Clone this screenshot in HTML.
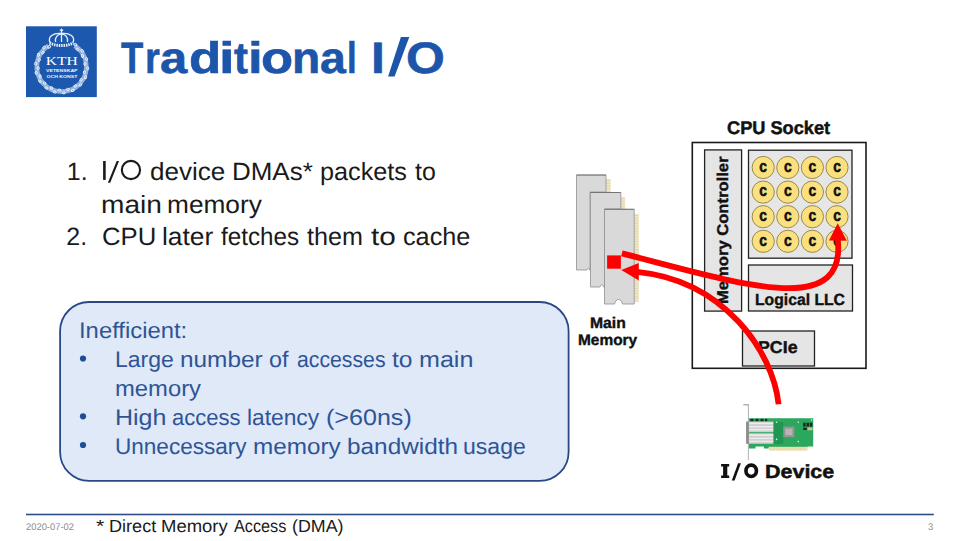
<!DOCTYPE html>
<html><head><meta charset="utf-8">
<style>
html,body{margin:0;padding:0;background:#fff;}
body{width:960px;height:541px;position:relative;overflow:hidden;font-family:"Liberation Sans",sans-serif;}
.t{position:absolute;white-space:nowrap;line-height:1;transform-origin:0 0;text-rendering:geometricPrecision;}
svg{position:absolute;left:0;top:0;}
</style></head><body>
<svg width="960" height="541" viewBox="0 0 960 541">
<!-- KTH logo -->
<rect x="26" y="26.3" width="70.8" height="70.8" fill="#1c58ad"/>
<path d="M74.74,45.77 A24.8,24.8 0 1 1 48.46,45.77" fill="none" stroke="#93b1de" stroke-width="4.6"/>
<g fill="none" stroke="#f2f6fc" stroke-width="0.9"><ellipse cx="75.43" cy="44.67" rx="1.5" ry="1.1" transform="rotate(392 75.43 44.67)"/><ellipse cx="77.39" cy="49.39" rx="1.5" ry="1.1" transform="rotate(402 77.39 49.39)"/><ellipse cx="82.28" cy="50.88" rx="1.5" ry="1.1" transform="rotate(412 82.28 50.88)"/><ellipse cx="82.47" cy="55.99" rx="1.5" ry="1.1" transform="rotate(423 82.47 55.99)"/><ellipse cx="86.54" cy="59.09" rx="1.5" ry="1.1" transform="rotate(433 86.54 59.09)"/><ellipse cx="84.93" cy="63.95" rx="1.5" ry="1.1" transform="rotate(443 84.93 63.95)"/><ellipse cx="87.66" cy="68.28" rx="1.5" ry="1.1" transform="rotate(453 87.66 68.28)"/><ellipse cx="84.46" cy="72.27" rx="1.5" ry="1.1" transform="rotate(463 84.46 72.27)"/><ellipse cx="85.51" cy="77.27" rx="1.5" ry="1.1" transform="rotate(474 85.51 77.27)"/><ellipse cx="81.11" cy="79.89" rx="1.5" ry="1.1" transform="rotate(484 81.11 79.89)"/><ellipse cx="80.35" cy="84.95" rx="1.5" ry="1.1" transform="rotate(494 80.35 84.95)"/><ellipse cx="75.32" cy="85.88" rx="1.5" ry="1.1" transform="rotate(504 75.32 85.88)"/><ellipse cx="72.84" cy="90.35" rx="1.5" ry="1.1" transform="rotate(514 72.84 90.35)"/><ellipse cx="67.81" cy="89.47" rx="1.5" ry="1.1" transform="rotate(525 67.81 89.47)"/><ellipse cx="63.92" cy="92.80" rx="1.5" ry="1.1" transform="rotate(535 63.92 92.80)"/><ellipse cx="59.51" cy="90.21" rx="1.5" ry="1.1" transform="rotate(545 59.51 90.21)"/><ellipse cx="54.71" cy="91.97" rx="1.5" ry="1.1" transform="rotate(555 54.71 91.97)"/><ellipse cx="51.48" cy="88.01" rx="1.5" ry="1.1" transform="rotate(566 51.48 88.01)"/><ellipse cx="46.36" cy="87.99" rx="1.5" ry="1.1" transform="rotate(576 46.36 87.99)"/><ellipse cx="44.72" cy="83.14" rx="1.5" ry="1.1" transform="rotate(586 44.72 83.14)"/><ellipse cx="39.93" cy="81.34" rx="1.5" ry="1.1" transform="rotate(596 39.93 81.34)"/><ellipse cx="40.07" cy="76.23" rx="1.5" ry="1.1" transform="rotate(606 40.07 76.23)"/><ellipse cx="36.22" cy="72.87" rx="1.5" ry="1.1" transform="rotate(617 36.22 72.87)"/><ellipse cx="38.14" cy="68.13" rx="1.5" ry="1.1" transform="rotate(627 38.14 68.13)"/><ellipse cx="35.69" cy="63.63" rx="1.5" ry="1.1" transform="rotate(637 35.69 63.63)"/><ellipse cx="39.15" cy="59.86" rx="1.5" ry="1.1" transform="rotate(647 39.15 59.86)"/><ellipse cx="38.42" cy="54.80" rx="1.5" ry="1.1" transform="rotate(657 38.42 54.80)"/><ellipse cx="42.98" cy="52.47" rx="1.5" ry="1.1" transform="rotate(668 42.98 52.47)"/><ellipse cx="44.07" cy="47.47" rx="1.5" ry="1.1" transform="rotate(678 44.07 47.47)"/><ellipse cx="49.15" cy="46.87" rx="1.5" ry="1.1" transform="rotate(688 49.15 46.87)"/></g>
<g fill="none" stroke="#e8effa" stroke-width="1.3">
<line x1="61.5" y1="28.6" x2="61.5" y2="33.2"/>
<line x1="59.8" y1="30.2" x2="63.2" y2="30.2"/>
<path d="M50,42.5 C47.5,36.5 53,32.6 61.5,33.4 C70,32.6 75.5,36.5 73,42.5"/>
<path d="M55.5,42 C54.8,37.5 57.3,34.4 61.5,33.8 M67.5,42 C68.2,37.5 65.7,34.4 61.5,33.8"/>
<line x1="61.5" y1="33.6" x2="61.5" y2="42"/>
</g>
<path d="M49.5,43 Q61.5,48.2 73.5,43" fill="none" stroke="#e8effa" stroke-width="3" stroke-dasharray="1.5 0.9"/>
<text x="61.8" y="65.2" font-family="Liberation Serif" font-size="12.6" fill="#fff" text-anchor="middle" textLength="32" lengthAdjust="spacingAndGlyphs">KTH</text>
<text x="61.8" y="72.3" font-family="Liberation Sans" font-size="4.4" font-weight="bold" fill="#f0f4fb" text-anchor="middle" textLength="31.5" lengthAdjust="spacingAndGlyphs">VETENSKAP</text>
<text x="61.9" y="77.8" font-family="Liberation Sans" font-size="4.4" font-weight="bold" fill="#f0f4fb" text-anchor="middle" textLength="31" lengthAdjust="spacingAndGlyphs">OCH KONST</text>

<!-- rounded box -->
<rect x="60.1" y="302" width="508.5" height="178.9" rx="29" ry="29" fill="#dfe9f8" stroke="#274a82" stroke-width="1.8"/>
<circle cx="83" cy="358.5" r="3.1" fill="#1f4e96"/>
<circle cx="83" cy="416.3" r="3.1" fill="#1f4e96"/>
<circle cx="83" cy="445" r="3.1" fill="#1f4e96"/>

<!-- footer line -->
<rect x="26" y="513.7" width="907.8" height="1.6" fill="#2c4e85"/>

<!-- DIMMs -->
<rect x="606" y="179" width="4.8" height="14" fill="#efe6c6"/>
<rect x="621" y="196.8" width="4.2" height="13" fill="#efe6c6"/>
<rect x="634.2" y="213.8" width="4.8" height="88" fill="#efe6c6"/>
<g fill="#d8cfa8"><rect x="606.5" y="180.5" width="3.8" height="0.6"/><rect x="606.5" y="183.1" width="3.8" height="0.6"/><rect x="606.5" y="185.7" width="3.8" height="0.6"/><rect x="606.5" y="188.3" width="3.8" height="0.6"/><rect x="606.5" y="190.9" width="3.8" height="0.6"/><rect x="621.3" y="198.3" width="3.4" height="0.6"/><rect x="621.3" y="200.9" width="3.4" height="0.6"/><rect x="621.3" y="203.5" width="3.4" height="0.6"/><rect x="621.3" y="206.1" width="3.4" height="0.6"/><rect x="621.3" y="208.7" width="3.4" height="0.6"/><rect x="634.6" y="215.3" width="3.8" height="0.6"/><rect x="634.6" y="217.9" width="3.8" height="0.6"/><rect x="634.6" y="220.5" width="3.8" height="0.6"/><rect x="634.6" y="223.1" width="3.8" height="0.6"/><rect x="634.6" y="225.7" width="3.8" height="0.6"/><rect x="634.6" y="228.3" width="3.8" height="0.6"/><rect x="634.6" y="230.9" width="3.8" height="0.6"/><rect x="634.6" y="233.5" width="3.8" height="0.6"/><rect x="634.6" y="236.1" width="3.8" height="0.6"/><rect x="634.6" y="238.7" width="3.8" height="0.6"/><rect x="634.6" y="241.3" width="3.8" height="0.6"/><rect x="634.6" y="243.9" width="3.8" height="0.6"/><rect x="634.6" y="246.5" width="3.8" height="0.6"/><rect x="634.6" y="249.1" width="3.8" height="0.6"/><rect x="634.6" y="251.7" width="3.8" height="0.6"/><rect x="634.6" y="254.3" width="3.8" height="0.6"/><rect x="634.6" y="256.9" width="3.8" height="0.6"/><rect x="634.6" y="259.5" width="3.8" height="0.6"/><rect x="634.6" y="262.1" width="3.8" height="0.6"/><rect x="634.6" y="264.7" width="3.8" height="0.6"/><rect x="634.6" y="267.3" width="3.8" height="0.6"/><rect x="634.6" y="269.9" width="3.8" height="0.6"/><rect x="634.6" y="272.5" width="3.8" height="0.6"/><rect x="634.6" y="275.1" width="3.8" height="0.6"/><rect x="634.6" y="277.7" width="3.8" height="0.6"/><rect x="634.6" y="280.3" width="3.8" height="0.6"/><rect x="634.6" y="282.9" width="3.8" height="0.6"/><rect x="634.6" y="285.5" width="3.8" height="0.6"/><rect x="634.6" y="288.1" width="3.8" height="0.6"/><rect x="634.6" y="290.7" width="3.8" height="0.6"/><rect x="634.6" y="293.3" width="3.8" height="0.6"/><rect x="634.6" y="295.9" width="3.8" height="0.6"/><rect x="634.6" y="298.5" width="3.8" height="0.6"/><rect x="634.6" y="301.1" width="3.8" height="0.6"/></g>
<g stroke="#8f8f8f" stroke-width="0.8">
<path d="M576.5,270 L576.5,175 L606,175 L606,192 L590,192 L590,270 L589.5,270 C589,267.5 587.5,267.5 587,270 Z" fill="#d9d9d9"/>
<path d="M590.5,287 L590.5,192.5 L620.8,192.5 L620.8,209 L604.5,209 L604.5,287 L603.5,287 C603,284 600.5,284 600,287 Z" fill="#d9d9d9"/>
<path d="M604.5,304 L604.5,209.3 L634.2,209.3 L634.2,304 L622.5,304 C621,298 616,298 614.5,304 Z" fill="#d9d9d9"/>
</g>
<g stroke="#6f6f6f" stroke-width="0.9"><line x1="576.5" y1="175" x2="606" y2="175"/><line x1="590.5" y1="192.5" x2="620.8" y2="192.5"/><line x1="604.5" y1="209.3" x2="634.2" y2="209.3"/></g>
<rect x="607.1" y="255.4" width="13.8" height="13.3" fill="#ff0000"/>

<!-- CPU socket -->
<rect x="692.3" y="142.5" width="173.7" height="225.8" fill="#fff" stroke="#1a1a1a" stroke-width="1.6"/>
<rect x="704.6" y="149.9" width="37" height="161.2" fill="#e5e5e5" stroke="#222" stroke-width="1.3"/>
<rect x="748.5" y="150.2" width="103.5" height="108" fill="#e6e6e6" stroke="#222" stroke-width="1.3"/>
<rect x="748.5" y="265" width="104" height="46" fill="#e5e5e5" stroke="#222" stroke-width="1.3"/>
<rect x="742.5" y="331" width="72" height="35" fill="#e5e5e5" stroke="#222" stroke-width="1.3"/>
<g fill="#fbe07f" stroke="#8f7f45" stroke-width="0.9">
<circle cx="763.2" cy="167.5" r="11.1"/><circle cx="787.8" cy="167.5" r="11.1"/><circle cx="812.4" cy="167.5" r="11.1"/><circle cx="837.0" cy="167.5" r="11.1"/><circle cx="763.2" cy="192.1" r="11.1"/><circle cx="787.8" cy="192.1" r="11.1"/><circle cx="812.4" cy="192.1" r="11.1"/><circle cx="837.0" cy="192.1" r="11.1"/><circle cx="763.2" cy="216.7" r="11.1"/><circle cx="787.8" cy="216.7" r="11.1"/><circle cx="812.4" cy="216.7" r="11.1"/><circle cx="837.0" cy="216.7" r="11.1"/><circle cx="763.2" cy="241.3" r="11.1"/><circle cx="787.8" cy="241.3" r="11.1"/><circle cx="812.4" cy="241.3" r="11.1"/><circle cx="837.0" cy="241.3" r="11.1"/>
</g>
<g font-family="Liberation Sans" font-weight="bold" font-size="16.5" fill="#111" text-anchor="middle" stroke="#111" stroke-width="0.55">
<text transform="translate(763.2,171.8) scale(0.84,1)">c</text><text transform="translate(787.8,171.8) scale(0.84,1)">c</text><text transform="translate(812.4,171.8) scale(0.84,1)">c</text><text transform="translate(837.0,171.8) scale(0.84,1)">c</text><text transform="translate(763.2,196.4) scale(0.84,1)">c</text><text transform="translate(787.8,196.4) scale(0.84,1)">c</text><text transform="translate(812.4,196.4) scale(0.84,1)">c</text><text transform="translate(837.0,196.4) scale(0.84,1)">c</text><text transform="translate(763.2,221.0) scale(0.84,1)">c</text><text transform="translate(787.8,221.0) scale(0.84,1)">c</text><text transform="translate(812.4,221.0) scale(0.84,1)">c</text><text transform="translate(837.0,221.0) scale(0.84,1)">c</text><text transform="translate(763.2,245.60000000000002) scale(0.84,1)">c</text><text transform="translate(787.8,245.60000000000002) scale(0.84,1)">c</text><text transform="translate(812.4,245.60000000000002) scale(0.84,1)">c</text><text transform="translate(837.0,245.60000000000002) scale(0.84,1)">c</text>
</g>
<!-- NIC -->
<g>
<line x1="748.4" y1="404.5" x2="748.4" y2="460" stroke="#a9a9a9" stroke-width="0.9"/>
<rect x="743.3" y="404.2" width="5.5" height="1.2" fill="#a0a0a0"/>
<path d="M748.9,418.3 L813.2,418.3 L813.2,446.6 L807.7,446.6 L807.7,447.2 L768.8,447.2 L768.8,448.5 L763.9,448.5 L763.9,446.6 L755.5,446.6 L755.5,448.5 L748.9,448.5 Z" fill="#2ba75e"/>
<rect x="773.3" y="422" width="10" height="21.8" fill="#1f9752"/>
<rect x="768.8" y="446.8" width="38.9" height="3.8" fill="#ebe2b4"/>
<g stroke="#d9cf95" stroke-width="0.5">
<line x1="771" y1="447" x2="771" y2="450.5"/><line x1="774" y1="447" x2="774" y2="450.5"/><line x1="777" y1="447" x2="777" y2="450.5"/><line x1="780" y1="447" x2="780" y2="450.5"/><line x1="783" y1="447" x2="783" y2="450.5"/><line x1="786" y1="447" x2="786" y2="450.5"/><line x1="789" y1="447" x2="789" y2="450.5"/><line x1="792" y1="447" x2="792" y2="450.5"/><line x1="795" y1="447" x2="795" y2="450.5"/><line x1="798" y1="447" x2="798" y2="450.5"/><line x1="801" y1="447" x2="801" y2="450.5"/><line x1="804" y1="447" x2="804" y2="450.5"/>
</g>
<rect x="746.1" y="421.6" width="27.2" height="10.6" fill="#cfcfcf"/>
<rect x="746.1" y="433.3" width="27.2" height="10.5" fill="#cfcfcf"/>
<rect x="746.1" y="421.6" width="2.8" height="22.2" fill="#8c8c8c"/>
<g fill="#ececec">
<rect x="749" y="422.6" width="24.3" height="1.6"/><rect x="749" y="426" width="24.3" height="1.4"/><rect x="749" y="429" width="24.3" height="1.4"/>
<rect x="749" y="434.3" width="24.3" height="1.6"/><rect x="749" y="437.7" width="24.3" height="1.4"/><rect x="749" y="440.7" width="24.3" height="1.4"/>
</g>
<rect x="783.3" y="426.6" width="11.1" height="10.6" fill="#959595"/>
<rect x="785.3" y="428.6" width="7.1" height="6.6" fill="#b5b5b5"/>
<g fill="#e6f5ea"><circle cx="776.6" cy="422.2" r="0.8"/><circle cx="798.3" cy="422.2" r="0.8"/><circle cx="776.6" cy="439.4" r="0.8"/><circle cx="798.3" cy="441.6" r="0.8"/><circle cx="811.6" cy="420" r="0.7"/></g>
<g fill="#1a2a20"><rect x="750.5" y="418.9" width="3" height="2.2"/><rect x="755.5" y="418.9" width="3" height="2.2"/><rect x="760.5" y="418.9" width="3" height="2.2"/><rect x="765" y="418.9" width="2.2" height="2.2"/>
<rect x="803.2" y="422.7" width="2.4" height="3.9"/><rect x="806.5" y="422.7" width="2.6" height="3.9"/><rect x="809.8" y="422.7" width="2.6" height="3.9"/><rect x="803.2" y="427.7" width="3.6" height="2.3"/></g>
<rect x="807.5" y="427.5" width="5" height="2.8" fill="#c8c48e"/>
</g>
</svg>
<div class="t" style="left:66.77px;top:160.01px;font-size:25px;color:#1a1a1a;">1.</div>
<div class="t" style="left:150.30px;top:160.01px;font-size:25px;color:#1a1a1a;transform:scaleX(1.0428);">device</div>
<div class="t" style="left:231.77px;top:160.01px;font-size:25px;color:#1a1a1a;transform:scaleX(1.0382);">DMAs*</div>
<div class="t" style="left:319.57px;top:160.01px;font-size:25px;color:#1a1a1a;transform:scaleX(1.0090);">packets</div>
<div class="t" style="left:414.59px;top:160.01px;font-size:25px;color:#1a1a1a;transform:scaleX(0.9956);">to</div>
<div class="t" style="left:100.57px;top:192.51px;font-size:25px;color:#1a1a1a;transform:scaleX(1.1248);">main</div>
<div class="t" style="left:167.20px;top:192.51px;font-size:25px;color:#1a1a1a;transform:scaleX(1.0506);">memory</div>
<div class="t" style="left:66.24px;top:224.91px;font-size:25px;color:#1a1a1a;">2.</div>
<div class="t" style="left:101.50px;top:224.91px;font-size:25px;color:#1a1a1a;transform:scaleX(1.0280);">CPU</div>
<div class="t" style="left:161.51px;top:224.91px;font-size:25px;color:#1a1a1a;transform:scaleX(1.0548);">later</div>
<div class="t" style="left:221.30px;top:224.91px;font-size:25px;color:#1a1a1a;transform:scaleX(0.9687);">fetches</div>
<div class="t" style="left:307.28px;top:224.91px;font-size:25px;color:#1a1a1a;transform:scaleX(1.0060);">them</div>
<div class="t" style="left:370.50px;top:224.91px;font-size:25px;color:#1a1a1a;transform:scaleX(1.1912);">to</div>
<div class="t" style="left:402.78px;top:224.91px;font-size:25px;color:#1a1a1a;transform:scaleX(1.0098);">cache</div>
<div class="t" style="left:78.72px;top:320.40px;font-size:22.5px;color:#2f5496;transform:scaleX(1.0594);">Inefficient:</div>
<div class="t" style="left:115.06px;top:349.20px;font-size:22.5px;color:#2f5496;transform:scaleX(1.0225);">Large</div>
<div class="t" style="left:179.50px;top:349.20px;font-size:22.5px;color:#2f5496;transform:scaleX(1.0836);">number</div>
<div class="t" style="left:269.39px;top:349.20px;font-size:22.5px;color:#2f5496;transform:scaleX(1.0371);">of</div>
<div class="t" style="left:296.67px;top:349.20px;font-size:22.5px;color:#2f5496;transform:scaleX(0.9438);">accesses</div>
<div class="t" style="left:392.47px;top:349.20px;font-size:22.5px;color:#2f5496;transform:scaleX(1.0955);">to</div>
<div class="t" style="left:418.85px;top:349.20px;font-size:22.5px;color:#2f5496;transform:scaleX(1.1152);">main</div>
<div class="t" style="left:114.83px;top:377.90px;font-size:22.5px;color:#2f5496;transform:scaleX(1.0588);">memory</div>
<div class="t" style="left:114.90px;top:406.90px;font-size:22.5px;color:#2f5496;transform:scaleX(1.1109);">High</div>
<div class="t" style="left:172.44px;top:406.90px;font-size:22.5px;color:#2f5496;transform:scaleX(0.9775);">access</div>
<div class="t" style="left:246.94px;top:406.90px;font-size:22.5px;color:#2f5496;transform:scaleX(1.0118);">latency</div>
<div class="t" style="left:325.69px;top:406.90px;font-size:22.5px;color:#2f5496;transform:scaleX(1.1146);">(&gt;60ns)</div>
<div class="t" style="left:114.66px;top:435.60px;font-size:22.5px;color:#2f5496;transform:scaleX(1.0017);">Unnecessary</div>
<div class="t" style="left:252.70px;top:435.60px;font-size:22.5px;color:#2f5496;transform:scaleX(1.0786);">memory</div>
<div class="t" style="left:346.97px;top:435.60px;font-size:22.5px;color:#2f5496;transform:scaleX(1.0822);">bandwidth</div>
<div class="t" style="left:463.26px;top:435.60px;font-size:22.5px;color:#2f5496;transform:scaleX(1.0249);">usage</div>
<div class="t" style="left:96.06px;top:518.02px;font-size:17.5px;color:#1a1a1a;transform:scaleX(1.2225);">*</div>
<div class="t" style="left:108.87px;top:518.02px;font-size:17.5px;color:#1a1a1a;transform:scaleX(1.0345);">Direct</div>
<div class="t" style="left:160.94px;top:518.02px;font-size:17.5px;color:#1a1a1a;transform:scaleX(1.0561);">Memory</div>
<div class="t" style="left:234.14px;top:518.02px;font-size:17.5px;color:#1a1a1a;transform:scaleX(0.9285);">Access</div>
<div class="t" style="left:291.75px;top:518.02px;font-size:17.5px;color:#1a1a1a;transform:scaleX(1.0184);">(DMA)</div>
<div class="t" style="left:765.41px;top:462.60px;font-size:19px;color:#111;font-weight:bold;transform:scaleX(1.1305);-webkit-text-stroke:0.5px #111;">Device</div>
<div class="t" style="left:121.06px;top:36.50px;font-size:44px;color:#1d55aa;font-weight:bold;transform:scaleX(0.8284);-webkit-text-stroke:0.6px #1d55aa;">T</div>
<div class="t" style="left:144.93px;top:36.50px;font-size:44px;color:#1d55aa;font-weight:bold;transform:scaleX(0.8663);-webkit-text-stroke:0.6px #1d55aa;">r</div>
<div class="t" style="left:159.57px;top:36.50px;font-size:44px;color:#1d55aa;font-weight:bold;transform:scaleX(1.1102);-webkit-text-stroke:0.6px #1d55aa;">a</div>
<div class="t" style="left:188.94px;top:36.50px;font-size:44px;color:#1d55aa;font-weight:bold;transform:scaleX(1.2032);-webkit-text-stroke:0.6px #1d55aa;">d</div>
<div class="t" style="left:219.27px;top:36.50px;font-size:44px;color:#1d55aa;font-weight:bold;transform:scaleX(1.2789);-webkit-text-stroke:0.6px #1d55aa;">i</div>
<div class="t" style="left:234.36px;top:36.50px;font-size:44px;color:#1d55aa;font-weight:bold;transform:scaleX(0.9507);-webkit-text-stroke:0.6px #1d55aa;">t</div>
<div class="t" style="left:247.55px;top:36.50px;font-size:44px;color:#1d55aa;font-weight:bold;transform:scaleX(1.1842);-webkit-text-stroke:0.6px #1d55aa;">i</div>
<div class="t" style="left:260.81px;top:36.50px;font-size:44px;color:#1d55aa;font-weight:bold;transform:scaleX(1.1952);-webkit-text-stroke:0.6px #1d55aa;">o</div>
<div class="t" style="left:291.75px;top:36.50px;font-size:44px;color:#1d55aa;font-weight:bold;transform:scaleX(1.0497);-webkit-text-stroke:0.6px #1d55aa;">n</div>
<div class="t" style="left:319.55px;top:36.50px;font-size:44px;color:#1d55aa;font-weight:bold;transform:scaleX(1.0553);-webkit-text-stroke:0.6px #1d55aa;">a</div>
<div class="t" style="left:346.80px;top:36.50px;font-size:44px;color:#1d55aa;font-weight:bold;transform:scaleX(0.7895);-webkit-text-stroke:0.6px #1d55aa;">l</div>
<div class="t" style="left:371.07px;top:36.50px;font-size:44px;color:#1d55aa;font-weight:bold;transform:scaleX(1.1327);-webkit-text-stroke:0.6px #1d55aa;">I</div>
<div class="t" style="left:405.57px;top:36.50px;font-size:44px;color:#1d55aa;font-weight:bold;transform:scaleX(1.1351);-webkit-text-stroke:0.6px #1d55aa;">O</div>
<div class="t" style="left:25.93px;top:523.0px;font-size:9.6px;color:#8c8c8c;transform:scaleX(0.9767);">2020-07-02</div>
<div class="t" style="left:928.08px;top:523.01px;font-size:9.6px;color:#8c8c8c;">3</div>
<div class="t" style="left:726.84px;top:118.5px;font-size:18.3px;color:#111;font-weight:bold;transform:scaleX(0.9951);-webkit-text-stroke:0.45px #111;">CPU Socket</div>
<div class="t" style="left:755.11px;top:292.3px;font-size:16.1px;color:#111;font-weight:bold;transform:scaleX(0.9769);-webkit-text-stroke:0.4px #111;">Logical LLC</div>
<div class="t" style="left:758.03px;top:338.6px;font-size:17.1px;color:#111;font-weight:bold;transform:scaleX(1.0397);-webkit-text-stroke:0.4px #111;">PCIe</div>
<div class="t" style="left:590.17px;top:315.62px;font-size:15.4px;color:#111;font-weight:bold;transform:scaleX(1.0206);-webkit-text-stroke:0.4px #111;">Main</div>
<div class="t" style="left:578.09px;top:332.92px;font-size:15.4px;color:#111;font-weight:bold;transform:scaleX(1.0023);-webkit-text-stroke:0.4px #111;">Memory</div>
<div class="t" style="left:715.51px;top:304.27px;font-size:15.65px;color:#111;font-weight:bold;transform:rotate(-90deg) scaleX(1.0608);-webkit-text-stroke:0.4px #111;">Memory Controller</div>
<svg width="960" height="541" viewBox="0 0 960 541">
<!-- list I/O -->
<g fill="#1a1a1a"><rect x="103.1" y="161" width="2.6" height="18.9"/><path d="M116.7,160.9 L119,160.9 L110.2,182.8 L107.9,182.8 Z"/></g>
<circle cx="130.95" cy="170" r="9.1" fill="none" stroke="#1a1a1a" stroke-width="2.1"/>
<!-- title slash -->
<path d="M400.9,37.1 L409.3,37.1 L394.6,76.6 L388.1,76.6 Z" fill="#1d55aa"/>
<!-- I/O glyphs -->
<g fill="#111">
<path d="M721.1,464 L729.2,464 L729.2,466.4 L727.3,466.4 L727.3,475.5 L729.2,475.5 L729.2,478 L721.1,478 L721.1,475.5 L723.1,475.5 L723.1,466.4 L721.1,466.4 Z"/>
<path d="M738.1,463.2 L740.9,463.2 L734.6,480.6 L731.8,480.6 Z"/>
</g>
<ellipse cx="751.2" cy="470.85" rx="5.25" ry="5.65" fill="none" stroke="#111" stroke-width="3.7" transform="translate(0,0)"/>
<!-- red arrows -->
<g fill="none" stroke="#ff0000" stroke-width="5.8" stroke-linecap="butt">
<path d="M621.9,253.4 C739,283.1 847.2,320.1 837.7,239"/>
<path d="M778.6,404.2 C772.9,351.6 724.4,280.5 637,271.8"/>
</g>
<g fill="#ff0000">
<path d="M837.7,223.3 L846.8,240.8 L829,240.6 Z"/>
<path d="M621.25,270 L638.75,263.1 L638.75,280.6 Z"/>
</g>
</svg>
</body></html>
